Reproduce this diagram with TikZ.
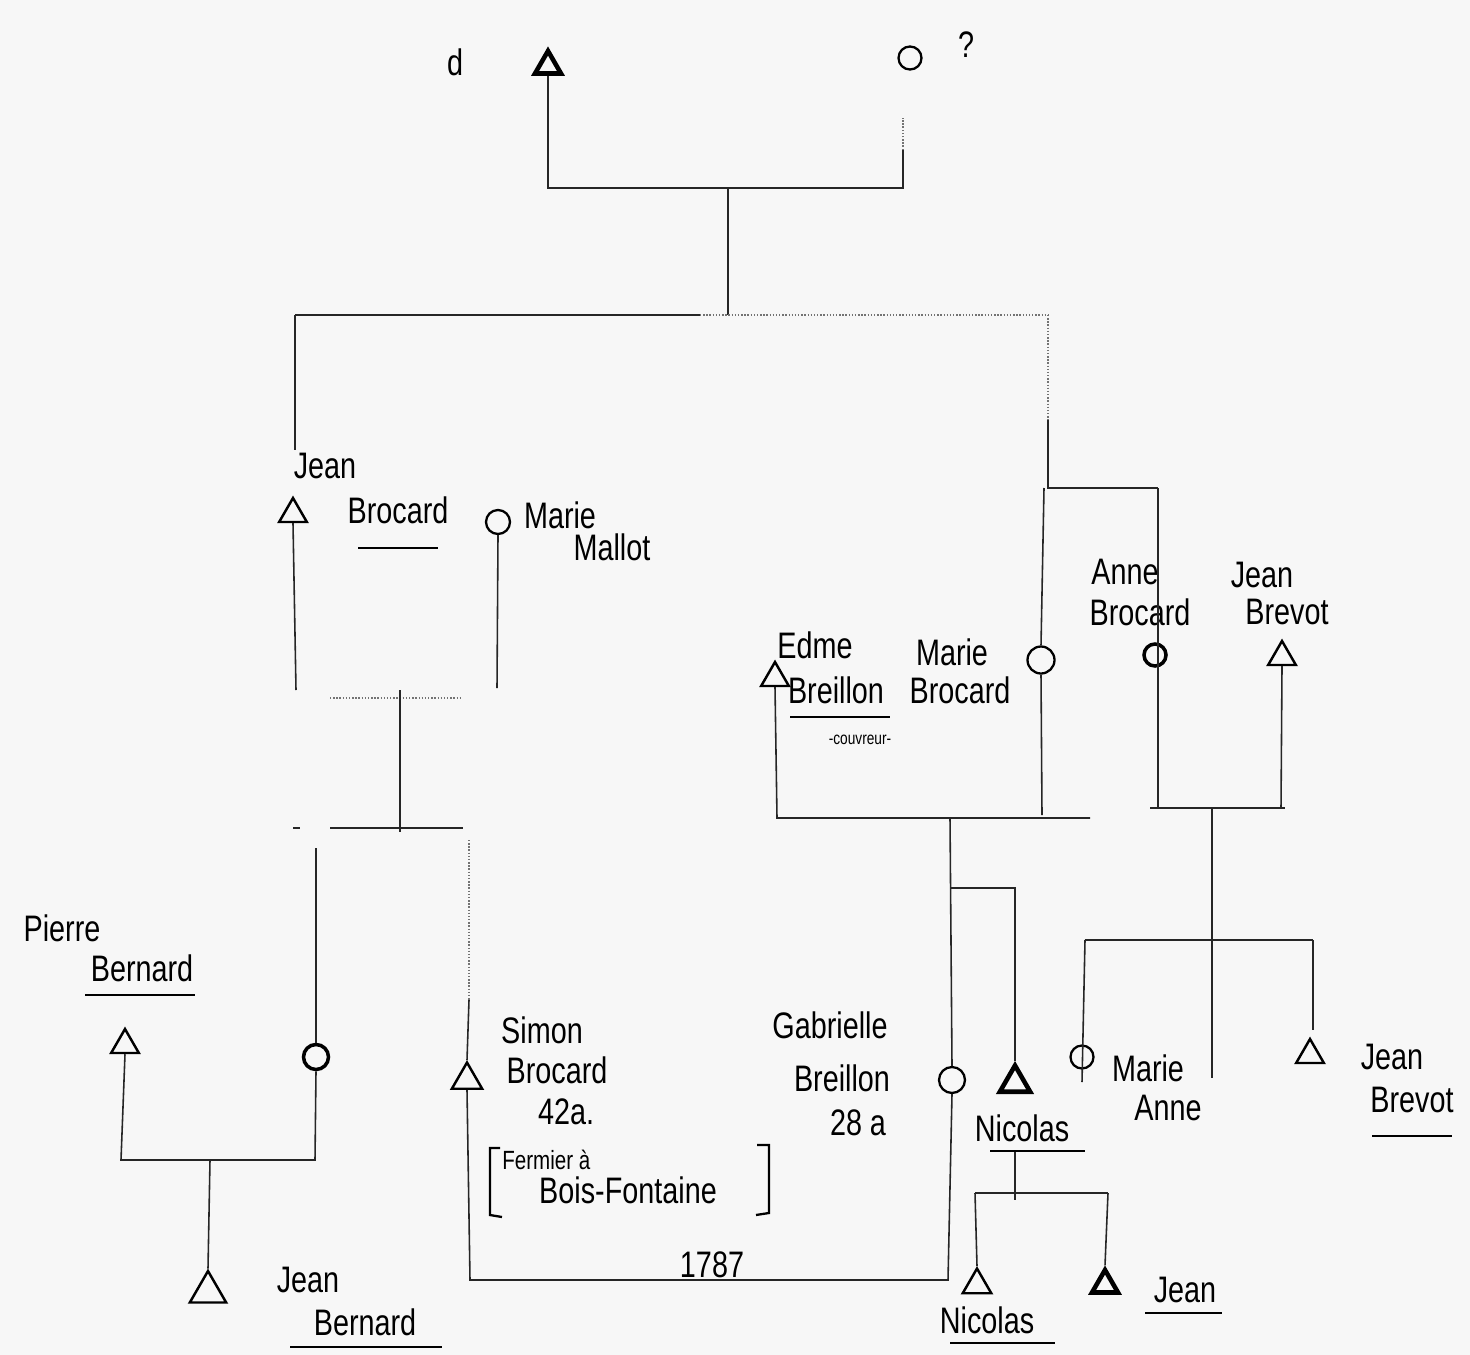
\documentclass[tikz,border=0pt]{standalone}
\usepackage{fontspec}
\setmainfont[FakeStretch=0.78]{Liberation Sans}
\usetikzlibrary{shapes.geometric}
\begin{document}
\begin{tikzpicture}[x=0.02cm,y=-0.02cm,
  ln/.style={line width=0.9pt, black!85},
  faint/.style={line width=0.8pt, black!55, densely dotted},
  male/.style={draw, regular polygon, regular polygon sides=3, minimum size=0.64cm, inner sep=0pt, line width=1.4pt},
  female/.style={draw, circle, minimum size=0.48cm, inner sep=0pt, line width=1.3pt},
  heavy/.style={line width=2.6pt},
  lbl/.style={font=\fontsize{21}{24}\selectfont, inner sep=0pt},
  small/.style={font=\fontsize{10}{12}\selectfont, inner sep=0pt},
  ul/.style={line width=1.3pt}]
\useasboundingbox (0,0) rectangle (1470,1355);
\fill[black!3] (0,0) rectangle (1470,1355);

% ---------- symbols ----------
\node[male, heavy, minimum size=0.6cm] (t0) at (548,66) {};
\node[female, minimum size=0.46cm] (c0) at (910,58) {};
\node[male] (jb) at (293,514) {};
\node[female] (mm) at (498,522) {};
\node[male] (eb) at (775,678) {};
\node[female, minimum size=0.54cm] (mb) at (1041,660) {};
\node[female, line width=2pt, minimum size=0.44cm] (ab) at (1155,655) {};
\node[male] (jbv) at (1282,657) {};
\node[male] (pb) at (125,1045) {};
\node[female, line width=2pt, minimum size=0.5cm] (wf) at (316,1057) {};
\node[male, minimum size=0.7cm] (sb) at (467,1080) {};
\node[female, minimum size=0.52cm] (gb) at (952,1080) {};
\node[male, heavy, minimum size=0.7cm] (nic) at (1015,1083) {};
\node[female, minimum size=0.46cm] (ma) at (1082,1057) {};
\node[male] (jbv2) at (1310,1055) {};
\node[male, minimum size=0.84cm] (jbe) at (208,1292) {};
\node[male, minimum size=0.66cm] (nic2) at (977,1285) {};
\node[male, heavy, minimum size=0.6cm] (jn) at (1105,1285) {};

% ---------- labels ----------
\node[lbl] (ld) at (455,62) {d};
\node[lbl] (lq) at (966,45) {?};
\node[lbl] (jbJ) at (325,466) {Jean};
\node[lbl] (jbB) at (398,510) {Brocard};
\node[lbl] (mmM) at (560,515) {Marie};
\node[lbl] (mmN) at (612,547) {Mallot};
\node[lbl] (ebE) at (815,645) {Edme};
\node[lbl] (ebB) at (836,690) {Breillon};
\node[small] (ebC) at (860,740) {-couvreur-};
\node[lbl] (mbM) at (952,652) {Marie};
\node[lbl] (mbB) at (960,690) {Brocard};
\node[lbl] (abA) at (1125,572) {Anne};
\node[lbl] (abB) at (1140,612) {Brocard};
\node[lbl] (jvJ) at (1262,575) {Jean};
\node[lbl] (jvB) at (1287,612) {Brevot};
\node[lbl] (pbP) at (62,928) {Pierre};
\node[lbl] (pbB) at (142,968) {Bernard};
\node[lbl] (sbS) at (542,1030) {Simon};
\node[lbl] (sbB) at (557,1070) {Brocard};
\node[lbl] (sbA) at (566,1112) {42a.};
\node[lbl, anchor=west, font=\fontsize{15}{17}\selectfont] (sbF1) at (502,1160) {Fermier à};
\node[lbl] (sbF2) at (628,1190) {Bois-Fontaine};
\node[lbl] (yr) at (712,1265) {1787};
\node[lbl] (gbG) at (830,1025) {Gabrielle};
\node[lbl] (gbB) at (842,1078) {Breillon};
\node[lbl] (gbA) at (858,1123) {28 a};
\node[lbl] (nicN) at (1022,1128) {Nicolas};
\node[lbl] (maM) at (1148,1068) {Marie};
\node[lbl] (maA) at (1168,1108) {Anne};
\node[lbl] (j2J) at (1392,1057) {Jean};
\node[lbl] (j2B) at (1412,1100) {Brevot};
\node[lbl] (jeJ) at (308,1280) {Jean};
\node[lbl] (jeB) at (365,1322) {Bernard};
\node[lbl] (n2N) at (987,1320) {Nicolas};
\node[lbl] (jnJ) at (1185,1290) {Jean};

% ---------- underlines and brackets ----------
\draw[ul] (358,548) -- (438,548);
\draw[ul] (790,717) -- (890,717);
\draw[ul] (85,995) -- (195,995);
\draw[ul] (990,1151) -- (1085,1151);
\draw[ul] (1372,1136) -- (1452,1136);
\draw[ul] (290,1347) -- (442,1347);
\draw[ul] (950,1343) -- (1055,1343);
\draw[ul] (1145,1313) -- (1222,1313);
\draw[ul] (500,1148) -- (490,1148) -- (490,1215) -- (502,1217);
\draw[ul] (757,1145) -- (769,1145) -- (769,1213) -- (756,1215);

% ---------- connectors ----------
% first generation
\draw[ln] (t0.south) -- (548,188) -- (903,188) -- (903,150);
\draw[faint] (903,150) -- (903,118);
\draw[ln] (728,188) -- (728,315);
\draw[ln] (295,315) -- (700,315);
\draw[faint] (700,315) -- (1048,315);
\draw[ln] (295,315) -- (295,450);
\draw[faint] (1048,315) -- (1048,420);
\draw[ln] (1048,420) -- (1048,488) -- (1158,488);
\draw[ln] (1044,488) -- (mb.north);
\draw[ln] (mb.south) -- (1042,815);
\draw[ln] (1158,488) -- (1158,808);
% Jean Brocard x Marie Mallot
\draw[ln] (jb.south) -- (296,690);
\draw[ln] (mm.south) -- (497,688);
\draw[faint] (330,698) -- (462,698);
\draw[ln] (400,690) -- (400,832);
\draw[ln] (330,828) -- (463,828);
\draw[ln] (293,828) -- (300,828);
\draw[ln] (316,848) -- (wf.north);
\draw[ln] (wf.south) -- (315,1160) -- (121,1160) -- (pb.south);
\draw[ln] (210,1160) -- (jbe.north);
\draw[faint] (469,840) -- (469,1000);
\draw[ln] (469,1000) -- (sb.north);
\draw[ln] (sb.south) -- (470,1280) -- (948,1280) -- (gb.south);
% Edme Breillon x Marie Brocard
\draw[ln] (eb.south) -- (777,818) -- (1090,818);
\draw[ln] (950,818) -- (gb.north);
\draw[ln] (950,888) -- (1015,888) -- (nic.north);
% Anne Brocard x Jean Brevot
\draw[ln] (1150,808) -- (1285,808);
\draw[ln] (jbv.south) -- (1281,808);
\draw[ln] (1212,808) -- (1212,1078);
\draw[ln] (1085,940) -- (1313,940);
\draw[ln] (1085,940) -- (1082,1082);
\draw[ln] (1313,940) -- (1313,1030);
% Nicolas' children
\draw[ln] (1015,1152) -- (1015,1200);
\draw[ln] (975,1193) -- (1108,1193);
\draw[ln] (975,1193) -- (nic2.north);
\draw[ln] (1108,1193) -- (jn.north);
\end{tikzpicture}
\end{document}
